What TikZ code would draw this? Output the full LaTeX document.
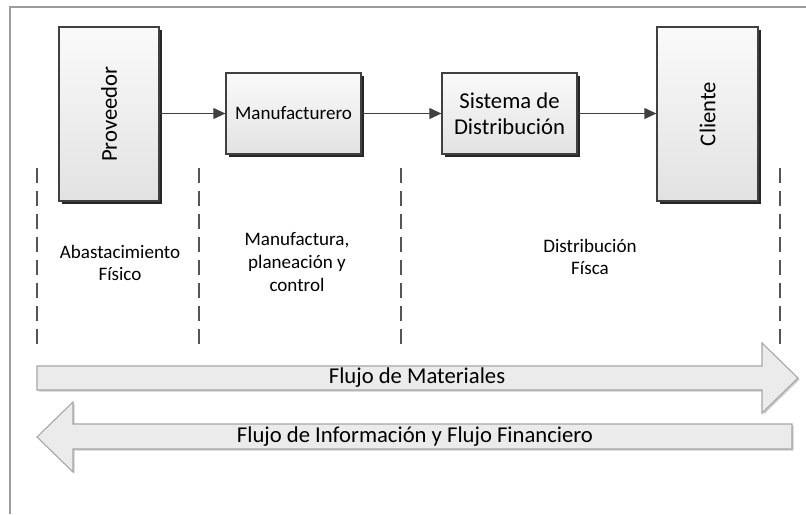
\documentclass[tikz,border=0pt]{standalone}
\usepackage{fontspec}
\setmainfont{Carlito}
\usetikzlibrary{shadows,arrows.meta}
\definecolor{boxline}{HTML}{404040}
\definecolor{boxtop}{HTML}{FAFAFA}
\definecolor{boxbot}{HTML}{E2E2E2}
\definecolor{framecol}{HTML}{9C9C9C}
\definecolor{bigfill}{HTML}{EBEBEB}
\definecolor{bigline}{HTML}{A6A6A6}
\definecolor{dashcol}{HTML}{555555}
\tikzset{
  box/.style={draw=boxline, line width=0.8pt, top color=boxtop, bottom color=boxbot,
    drop shadow={shadow xshift=2.4pt, shadow yshift=-2.4pt, fill=black!85, opacity=1},
    inner sep=0pt},
  boxtext/.style={font=\fontsize{17}{19.5}\selectfont, align=center, text=black},
  smalltext/.style={font=\fontsize{14.3}{17}\selectfont, align=center, text=black},
  conn/.style={draw=boxline, line width=1.4pt, -{Triangle[length=9pt,width=8pt]}},
  dashline/.style={draw=dashcol, line width=1.3pt, dash pattern=on 11.25pt off 6pt},
  bigarrow/.style={draw=bigline, line width=0.8pt, fill=bigfill,
    drop shadow={shadow xshift=1.2pt, shadow yshift=-1.2pt, fill=black!20, opacity=1}},
  bigtext/.style={font=\fontsize{17}{20}\selectfont, text=black},
}
\begin{document}
\begin{tikzpicture}[x=0.75pt, y=-0.75pt]
\useasboundingbox (0,0) rectangle (806,514);
% frame
\draw[framecol, line width=1.2pt] (806,7) -- (10,7) -- (10,514);
% boxes
\node[box, minimum width=75pt, minimum height=130.5pt] (prov) at (109,114) {};
\node[boxtext, rotate=90] (provt) at (prov) {Proveedor};
\node[box, minimum width=101.25pt, minimum height=60.75pt, smalltext] (manu) at (293.5,113.5) {Manufacturero};
\node[box, minimum width=101.25pt, minimum height=60.75pt, boxtext] (dist) at (509.5,113.5) {Sistema de\\Distribución};
\node[box, minimum width=75.75pt, minimum height=130.5pt] (cli) at (707.5,114) {};
\node[boxtext, rotate=90] (clit) at (cli) {Cliente};
% connectors
\draw[conn] (prov.east |- manu.west) -- (manu.west);
\draw[conn] (manu.east) -- (dist.west);
\draw[conn] (dist.east) -- (cli.west |- dist.east);
% dashed separators
\coordinate (d1a) at (37,168);  \coordinate (d1b) at (37,345);
\coordinate (d2a) at (199,168); \coordinate (d2b) at (199,345);
\coordinate (d3a) at (401,168); \coordinate (d3b) at (401,345);
\coordinate (d4a) at (780,168); \coordinate (d4b) at (780,345);
\draw[dashline] (d1a) -- (d1b);
\draw[dashline] (d2a) -- (d2b);
\draw[dashline] (d3a) -- (d3b);
\draw[dashline] (d4a) -- (d4b);
% stage labels
\node[smalltext] (l1) at (120,263) {Abastacimiento\\Físico};
\node[smalltext] (l2) at (297,262) {Manufactura,\\planeación y\\control};
\node[smalltext] (l3) at (590,257) {Distribución\\Físca};
% big flow arrows
\draw[bigarrow] (37,366) -- (762,366) -- (762,343) -- (798,378) -- (762,413) -- (762,390) -- (37,390) -- cycle;
\node[bigtext] (fm) at (417,378) {Flujo de Materiales};
\draw[bigarrow] (792,424) -- (73,424) -- (73,402) -- (37,437) -- (73,472) -- (73,449) -- (792,449) -- cycle;
\node[bigtext] (fi) at (415,437) {Flujo de Información y Flujo Financiero};
\end{tikzpicture}
\end{document}
